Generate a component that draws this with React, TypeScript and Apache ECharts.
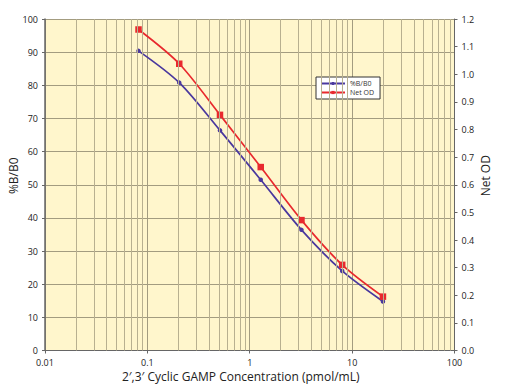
import React, { useEffect, useRef } from "react";
import * as echarts from "echarts";

const concentrations = [0.08192, 0.2048, 0.512, 1.28, 3.2, 8, 20];
const percentBB0 = [90.4, 80.8, 66.4, 51.5, 36.4, 24.0, 14.8];
const netOD = [1.162, 1.038, 0.853, 0.664, 0.472, 0.31, 0.195];
const minorGridX = [
  0.02, 0.03, 0.04, 0.05, 0.06, 0.07, 0.08, 0.09,
  0.2, 0.3, 0.4, 0.5, 0.6, 0.7, 0.8, 0.9,
  2, 3, 4, 5, 6, 7, 8, 9,
  20, 30, 40, 50, 60, 70, 80, 90,
];

const FONT = "'Open Sans', 'Noto Sans', sans-serif";
const GRID_COLOR = "#a39c80";
const MINOR_COLOR = "#b8b090";

export default function App() {
  const ref = useRef<HTMLDivElement>(null);
  useEffect(() => {
    if (!ref.current) return;
    const chart = echarts.init(ref.current, null, { renderer: "svg" });
    chart.setOption({
      animation: false,
      textStyle: { fontFamily: FONT },
      grid: {
        left: 45,
        right: 50.5,
        top: 19,
        bottom: 39.5,
        containLabel: false,
        outerBoundsMode: "none",
        show: true,
        backgroundColor: "#fff6cc",
        borderWidth: 0,
      },
      legend: {
        orient: "vertical",
        left: 316,
        top: 77,
        width: 63,
        backgroundColor: "#ffffff",
        borderColor: "#333333",
        borderWidth: 1,
        borderRadius: 0,
        padding: [3, 6, 3, 4],
        itemGap: 2,
        itemWidth: 24,
        itemHeight: 4,
        textStyle: { fontSize: 7, color: "#333", fontFamily: FONT },
        data: ["%B/B0", "Net OD"],
      },
      xAxis: {
        type: "log",
        logBase: 10,
        min: 0.01,
        max: 100,
        name: "2\u2032,3\u2032 Cyclic GAMP Concentration (pmol/mL)",
        nameLocation: "middle",
        nameGap: 20,
        nameMoveOverlap: false,
        nameTextStyle: { fontSize: 12, color: "#222", fontFamily: FONT, padding: [0, 18, 0, 0] },
        axisLine: { show: true, lineStyle: { color: "#666", width: 1 } },
        axisTick: { show: true, inside: false, length: 3, lineStyle: { color: "#666" } },
        axisLabel: {
          fontSize: 9,
          color: "#222",
          margin: 7,
          formatter: (v: number) => String(v),
        },
        splitLine: { show: true, lineStyle: { color: GRID_COLOR, width: 1 } },
      },
      yAxis: [
        {
          type: "value",
          min: 0,
          max: 100,
          interval: 10,
          position: "left",
          name: "%B/B0",
          nameLocation: "middle",
          nameGap: 26,
          nameMoveOverlap: false,
          nameRotate: 90,
          nameTextStyle: { fontSize: 12, color: "#222", fontFamily: FONT, padding: [0, 0, 0, 18] },
          axisLine: { show: true, lineStyle: { color: "#666", width: 1.5 } },
          axisTick: { show: true, inside: false, length: 3, lineStyle: { color: "#666" } },
          axisLabel: { fontSize: 9, color: "#222", margin: 7 },
          splitLine: { show: true, lineStyle: { color: GRID_COLOR, width: 1 } },
        },
        {
          type: "value",
          min: 0,
          max: 1.2,
          interval: 0.1,
          position: "right",
          name: "Net OD",
          nameLocation: "middle",
          nameGap: 25,
          nameMoveOverlap: false,
          nameRotate: 90,
          nameTextStyle: { fontSize: 12, color: "#222", fontFamily: FONT, padding: [0, 0, 0, 18] },
          axisLine: { show: true, lineStyle: { color: "#666", width: 1 } },
          axisTick: { show: true, inside: false, length: 3, lineStyle: { color: "#666" } },
          axisLabel: {
            fontSize: 9,
            color: "#222",
            margin: 7,
            formatter: (v: number) => v.toFixed(1),
          },
          splitLine: { show: false },
        },
      ],
      series: [
        {
          name: "minor-grid",
          type: "line",
          data: [],
          silent: true,
          z: 1,
          markLine: {
            silent: true,
            symbol: ["none", "none"],
            label: { show: false },
            lineStyle: { color: MINOR_COLOR, type: "solid", width: 1 },
            data: minorGridX.map((v) => ({ xAxis: v })),
          },
        },
        {
          name: "%B/B0",
          type: "line",
          yAxisIndex: 0,
          smooth: 0.3,
          z: 3,
          data: concentrations.map((c, i) => [c, percentBB0[i]]),
          symbol: "circle",
          symbolSize: 4.5,
          itemStyle: { color: "#4a389e" },
          lineStyle: { color: "#4a389e", width: 1.7 },
        },
        {
          name: "Net OD",
          type: "line",
          yAxisIndex: 1,
          smooth: 0.3,
          z: 4,
          data: concentrations.map((c, i) => [c, netOD[i]]),
          symbol: "rect",
          symbolSize: 6.5,
          itemStyle: { color: "#e8292e" },
          lineStyle: { color: "#e8292e", width: 1.7 },
        },
      ],
    });
    return () => chart.dispose();
  }, []);
  return (
    <div
      ref={ref}
      style={{ position: "absolute", left: 0, top: 0, width: 505, height: 390, background: "#ffffff" }}
    />
  );
}
